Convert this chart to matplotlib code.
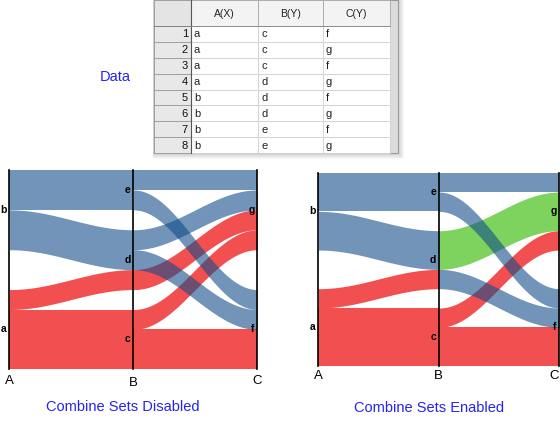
import numpy as np
import matplotlib.pyplot as plt
from matplotlib.patches import Rectangle

plt.rcParams['font.family'] = ['Liberation Sans', 'DejaVu Sans']

# data table (one entry per row)
col_a = ['a', 'a', 'a', 'a', 'b', 'b', 'b', 'b']
col_b = ['c', 'c', 'c', 'd', 'd', 'd', 'e', 'e']
col_c = ['f', 'g', 'f', 'g', 'f', 'g', 'f', 'g']
headers = ['A(X)', 'B(Y)', 'C(Y)']
axis_names = ['A', 'B', 'C']
captions = ['Combine Sets Disabled', 'Combine Sets Enabled']

blue = '#124d8a'    # drawn with alpha, looks like #7194b9 on white
red = '#f25050'
green = '#7ed35e'   # mixed sets when combined
set_colors = {'a': red, 'b': blue}
GAP_TOTAL = 2.0

W, H = 560, 430


def node_tops(values):
    cats = sorted(set(values), reverse=True)
    gap = GAP_TOTAL / (len(cats) - 1)
    tops, ranks = {}, {}
    y = len(values) + GAP_TOTAL
    for i, c in enumerate(cats):
        tops[c] = y
        ranks[c] = i
        y -= values.count(c) + gap
    return tops, ranks


def group_rows(keyfunc):
    groups = {}
    for i in range(len(col_a)):
        groups.setdefault(keyfunc(i), []).append(i)
    return groups


def stack(flows, field, keyfield, tops):
    pos = {}
    for node, top in tops.items():
        members = sorted([k for k, f in enumerate(flows) if f[field] == node],
                         key=lambda k: flows[k][keyfield])
        y = top
        for k in members:
            pos[k] = y
            y -= flows[k]['w']
    return pos


def build_segments(combine):
    ta, ra = node_tops(col_a)
    tb, rb = node_tops(col_b)
    tc, rc = node_tops(col_c)

    seg1 = []
    for (a, b), rows in group_rows(lambda i: (col_a[i], col_b[i])).items():
        seg1.append(dict(src=a, dst=b, w=len(rows), skey=rb[b], dkey=ra[a],
                         color=set_colors[a]))
    seg2 = []
    if combine:
        for (b, c), rows in group_rows(lambda i: (col_b[i], col_c[i])).items():
            sets = {col_a[i] for i in rows}
            color = set_colors[sets.pop()] if len(sets) == 1 else green
            seg2.append(dict(src=b, dst=c, w=len(rows), skey=rc[c], dkey=rb[b],
                             color=color))
    else:
        for (a, b, c), rows in group_rows(lambda i: (col_a[i], col_b[i], col_c[i])).items():
            seg2.append(dict(src=b, dst=c, w=len(rows), skey=(ra[a], rc[c]),
                             dkey=(rb[b], ra[a]), color=set_colors[a]))
    return [(seg1, ta, tb), (seg2, tb, tc)], [ta, tb, tc]


def ribbon(ax, x0, y0, y1, w, color):
    xs = np.linspace(x0, x0 + 1, 100)
    s = (1 - np.cos(np.pi * (xs - x0))) / 2
    top = y0 + (y1 - y0) * s
    if color == blue:
        ax.fill_between(xs, top - w, top, color=color, alpha=0.6, lw=0, zorder=2)
    else:
        ax.fill_between(xs, top - w, top, color=color, lw=0, zorder=1)


def draw_alluvial(ax, combine, name_offsets):
    segments, all_tops = build_segments(combine)
    for si, (flows, src_tops, dst_tops) in enumerate(segments):
        p0 = stack(flows, 'src', 'skey', src_tops)
        p1 = stack(flows, 'dst', 'dkey', dst_tops)
        for k, f in enumerate(flows):
            ribbon(ax, si, p0[k], p1[k], f['w'], f['color'])
    for xi, (tops, col) in enumerate(zip(all_tops, [col_a, col_b, col_c])):
        ax.axvline(xi, color='black', lw=1.2, zorder=3, clip_on=False)
        for node, top in tops.items():
            mid = top - col.count(node) / 2
            ax.annotate(node, (xi, mid), xytext=(-2, 0), textcoords='offset points',
                        ha='right', va='center', fontsize=7.5, fontweight='bold',
                        zorder=4)
        ax.annotate(axis_names[xi], (xi, 0), xytext=name_offsets[xi],
                    textcoords='offset points', ha='center', va='center',
                    fontsize=9.5, annotation_clip=False)
    ax.set_xlim(0, 2)
    ax.set_ylim(0, len(col_a) + GAP_TOTAL)
    ax.axis('off')


def px_axes(fig, x0, x1, y0, y1):
    return fig.add_axes([x0 / W, 1 - y1 / H, (x1 - x0) / W, (y1 - y0) / H])


fig = plt.figure(figsize=(5.6, 4.3), dpi=100)

# background layer in pixel coordinates for the data table
bg = fig.add_axes([0, 0, 1, 1], zorder=0)
bg.set_xlim(0, W)
bg.set_ylim(H, 0)
bg.axis('off')

tx0, tx1, ty0, ty1 = 154, 398, 0, 153
col_x = [191, 258, 323, 390]
hdr_h = 26
row_h = (ty1 - hdr_h) / len(col_a)

for k in range(1, 7):
    bg.add_patch(Rectangle((tx0 - 1, ty0), tx1 - tx0 + k + 1, ty1 - ty0 + k,
                           fc='black', alpha=0.03, lw=0))
bg.add_patch(Rectangle((tx0, ty0), tx1 - tx0, ty1 - ty0, fc='#dcdcdc',
                       ec='#9a9a9a', lw=0.8))
bg.add_patch(Rectangle((tx0, ty0), col_x[0] - tx0, hdr_h, fc='#e4e4e4',
                       ec='#9a9a9a', lw=0.6))
for j in range(3):
    bg.add_patch(Rectangle((col_x[j], ty0), col_x[j + 1] - col_x[j], hdr_h,
                           fc='#f3f3f3', ec='#a8a8a8', lw=0.6))
    bg.text((col_x[j] + col_x[j + 1]) / 2, hdr_h / 2 + 1, headers[j],
            ha='center', va='center', fontsize=7.5, color='#222222')

cols = [col_a, col_b, col_c]
for i in range(len(col_a)):
    y = hdr_h + i * row_h
    bg.add_patch(Rectangle((tx0, y), col_x[0] - tx0, row_h, fc='#e8e8e8',
                           ec='#9a9a9a', lw=0.6))
    bg.text(col_x[0] - 3, y + row_h / 2 + 0.5, str(i + 1), ha='right',
            va='center', fontsize=8, color='#111111')
    for j in range(3):
        bg.add_patch(Rectangle((col_x[j], y), col_x[j + 1] - col_x[j], row_h,
                               fc='white', ec='#d0d0d0', lw=0.6))
        bg.text(col_x[j] + 3, y + row_h / 2 + 0.5, cols[j][i], ha='left',
                va='center', fontsize=8, color='#222222')
bg.plot([col_x[0], col_x[0]], [ty0, ty1], color='#555555', lw=0.8)
bg.plot([tx0, col_x[-1]], [hdr_h, hdr_h], color='#808080', lw=0.6)

bg.text(115, 77, 'Data', ha='center', va='center', fontsize=10.5, color='#2323f5')

ax1 = px_axes(fig, 9.3, 257.3, 170, 369.3)
draw_alluvial(ax1, False, [(0, -8.2), (0, -10.2), (0, -8.2)])
ax2 = px_axes(fig, 318.3, 559.3, 172.7, 366)
draw_alluvial(ax2, True, [(0, -7.2), (0, -7.0), (-4, -7.2)])

bg.text(123, 407, captions[0], ha='center', va='center', fontsize=10.5, color='#2323f5')
bg.text(429, 408, captions[1], ha='center', va='center', fontsize=10.5, color='#2323f5')

fig.savefig('out.png', dpi=100)
